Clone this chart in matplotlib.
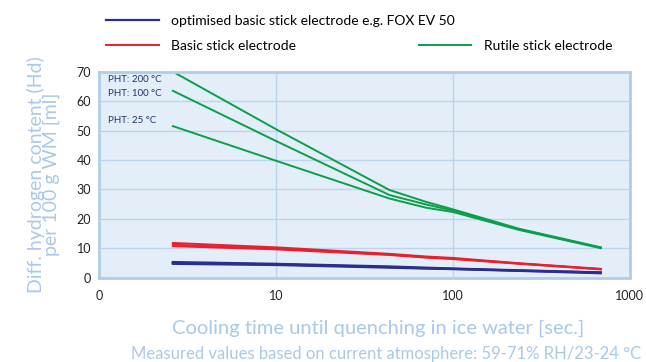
import numpy as np
import matplotlib.pyplot as plt
from matplotlib.ticker import FixedLocator, NullLocator

plt.rcParams['font.family'] = ['Lato', 'DejaVu Sans']

# cooling time [s]
t = [2.6, 10, 43.6, 70, 100, 237, 685]

# green: rutile electrode, PHT 200 / 100 / 25 °C
rutile = [
    [70.0, 50.4, 29.8, 25.8, 23.2, 16.6, 10.3],
    [63.5, 46.4, 28.1, 24.9, 22.8, 16.4, 10.2],
    [51.5, 39.7, 26.9, 23.8, 22.3, 16.2, 10.0],
]
# red: basic electrode
basic = [
    [11.8, 10.3, 8.1, 7.2, 6.7, 4.9, 3.0],
    [11.2, 9.9, 7.9, 7.0, 6.5, 4.8, 2.9],
    [10.7, 9.6, 7.7, 6.8, 6.3, 4.7, 2.8],
]
# blue: optimised basic electrode (FOX EV 50)
optimised = [
    [5.3, 4.7, 3.8, 3.4, 3.1, 2.5, 1.8],
    [5.0, 4.5, 3.6, 3.2, 3.0, 2.4, 1.7],
    [4.7, 4.3, 3.4, 3.1, 2.9, 2.3, 1.5],
]

pht_labels = ['PHT: 200 °C', 'PHT: 100 °C', 'PHT: 25 °C']
pht_y = [67.5, 62.5, 53.5]

x_ticks = [1, 10, 100, 1000]
x_ticklabels = ['0', '10', '100', '1000']
y_ticks = [0, 10, 20, 30, 40, 50, 60, 70]

green = '#0a9f4a'
red = '#e8202e'
blue = '#2b2e8c'
light = '#a9c9ea'

fig = plt.figure(figsize=(6.46, 3.62), dpi=100)
ax = fig.add_axes([0.154, 0.233, 0.821, 0.569])
ax.set_facecolor('#e4eef8')

for ys in rutile:
    l_green, = ax.plot(t, ys, color=green, lw=1.4)
for ys in basic:
    l_red, = ax.plot(t, ys, color=red, lw=1.4)
for ys in optimised:
    l_blue, = ax.plot(t, ys, color=blue, lw=1.6)

ax.set_xscale('log')
ax.set_xlim(1, 1000)
ax.set_ylim(0, 70)
ax.xaxis.set_major_locator(FixedLocator(x_ticks))
ax.xaxis.set_minor_locator(NullLocator())
ax.set_xticklabels(x_ticklabels)
ax.set_yticks(y_ticks)
ax.tick_params(length=0, labelsize=9, colors='#222222', pad=6)
ax.tick_params(axis='x', pad=9)
ax.grid(True, color='#bcd4ee', lw=1)
ax.set_axisbelow(True)
for s in ax.spines.values():
    s.set_color('#b0cdec')
    s.set_linewidth(2)

for lab, y in zip(pht_labels, pht_y):
    ax.text(1.12, y, lab, fontsize=7, color='#1f3563', va='center')

ax.set_ylabel('Diff. hydrogen content (Hd)\nper 100 g WM [ml]', color=light,
              fontsize=14, linespacing=0.85, labelpad=12)
fig.text(0.585, 0.078, 'Cooling time until quenching in ice water [sec.]',
         color=light, fontsize=14.5, ha='center')
fig.text(0.992, 0.008, 'Measured values based on current atmosphere: 59-71% RH/23-24 °C',
         color=light, fontsize=12, ha='right')

fig.legend([l_blue], ['optimised basic stick electrode e.g. FOX EV 50'],
           loc='center left', bbox_to_anchor=(0.145, 0.942), frameon=False,
           fontsize=10, handlelength=3.8, handletextpad=0.9)
fig.legend([l_red, l_green], ['Basic stick electrode', 'Rutile stick electrode'],
           loc='center left', bbox_to_anchor=(0.145, 0.874), frameon=False,
           fontsize=10, ncol=2, handlelength=3.8, handletextpad=0.9,
           columnspacing=8.8)

fig.savefig('out.png', dpi=100)
